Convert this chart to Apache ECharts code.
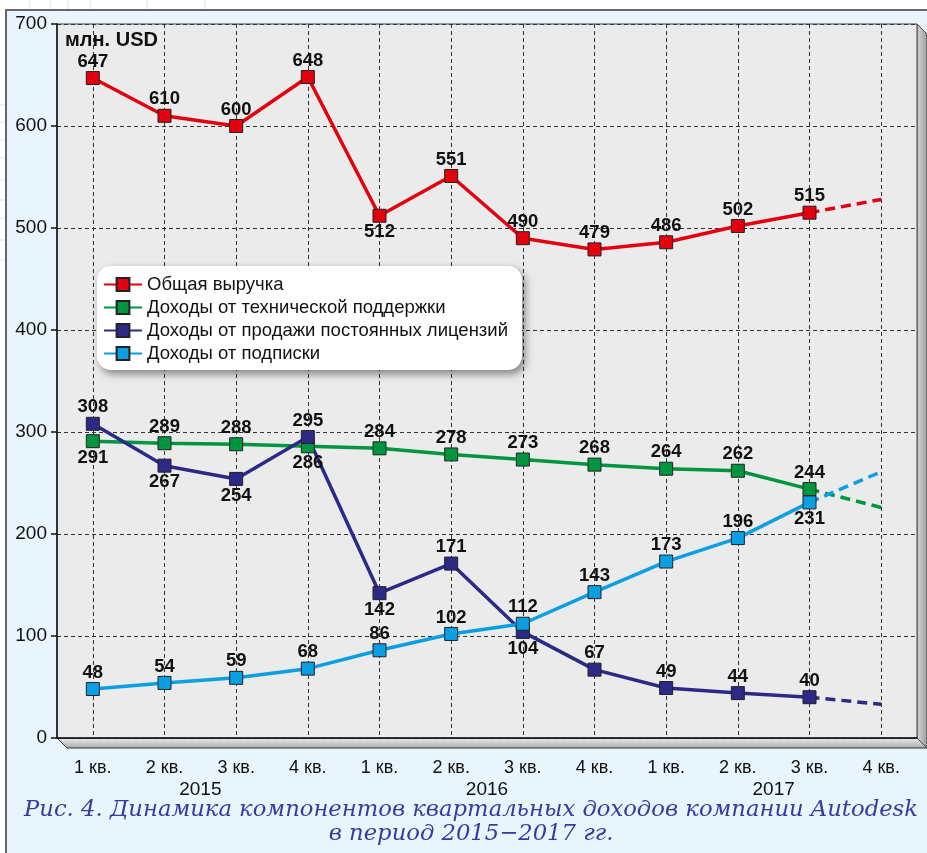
<!DOCTYPE html>
<html>
<head>
<meta charset="utf-8">
<script src="https://cdn.jsdelivr.net/npm/echarts@6/dist/echarts.min.js"></script>
<style>
html,body{margin:0;padding:0;background:#fff;}
#chart{width:927px;height:853px;}
</style>
</head>
<body>
<div id="chart"></div>
<script>
// кварталы и годы
var quarters = ['1 кв.', '2 кв.', '3 кв.', '4 кв.', '1 кв.', '2 кв.', '3 кв.', '4 кв.', '1 кв.', '2 кв.', '3 кв.', '4 кв.'];
var years = ['2015', '2016', '2017'];

// млн. USD, 1 кв. 2015 – 3 кв. 2017
var totalRevenue = [647, 610, 600, 648, 512, 551, 490, 479, 486, 502, 515];
var supportRevenue = [291, 289, 288, 286, 284, 278, 273, 268, 264, 262, 244];
var licenseRevenue = [308, 267, 254, 295, 142, 171, 104, 67, 49, 44, 40];
var subscriptionRevenue = [48, 54, 59, 68, 86, 102, 112, 143, 173, 196, 231];
// прогноз на 4 кв. 2017 (пунктир)
var forecastQ4 = [528, 226, 33, 261];

var names = ['Общая выручка', 'Доходы от технической поддержки', 'Доходы от продажи постоянных лицензий', 'Доходы от подписки'];
var COLORS = ['#e3000f', '#009640', '#2d2a87', '#0a9fe3'];

var chart = echarts.init(document.getElementById('chart'));

// номера точек, у которых подпись стоит под маркером
var below = [[4], [0, 3], [1, 2, 4, 6], [10]];

function solidSeries(i, values) {
    return {
        name: names[i],
        type: 'line',
        data: values.map(function (v, k) {
            return {value: v, label: {position: below[i].indexOf(k) >= 0 ? 'bottom' : 'top'}};
        }),
        symbol: 'rect',
        symbolSize: 13,
        color: COLORS[i],
        lineStyle: {width: 3.5, color: COLORS[i]},
        itemStyle: {color: COLORS[i], borderColor: '#222', borderWidth: 1},
        label: {show: true, distance: 0, color: '#111', fontSize: 18.5, fontWeight: 'bold', fontFamily: 'Liberation Sans, Arial'},
        emphasis: {disabled: true},
        z: 3
    };
}

function dashSeries(i, values) {
    var d = quarters.map(function () { return null; });
    d[values.length - 1] = values[values.length - 1];
    d[values.length] = forecastQ4[i];
    return {
        name: names[i] + ' прогноз',
        type: 'line',
        data: d,
        showSymbol: false,
        symbol: 'none',
        lineStyle: {width: 3.5, color: COLORS[i], type: [10, 6]},
        emphasis: {disabled: true},
        z: 2
    };
}

var allValues = [totalRevenue, supportRevenue, licenseRevenue, subscriptionRevenue];
var series = [];
allValues.forEach(function (v, i) { series.push(dashSeries(i, v)); });
allValues.forEach(function (v, i) { series.push(solidSeries(i, v)); });

// фон с сеткой вне рамки
var bgLines = [];
[30, 50, 68, 90, 147, 205].forEach(function (x) {
    bgLines.push({type: 'line', shape: {x1: x, y1: 0, x2: x, y2: 10}, style: {stroke: '#cfe5f6', lineWidth: 1}, z: -10});
});
[105, 122, 140, 158, 180, 200, 218, 240, 260].forEach(function (y) {
    bgLines.push({type: 'line', shape: {x1: 0, y1: y, x2: 6, y2: y}, style: {stroke: '#cfe5f6', lineWidth: 1}, z: -10});
});

chart.setOption({
    animation: false,
    backgroundColor: '#ffffff',
    textStyle: {fontFamily: 'Liberation Sans, Arial'},
    graphic: bgLines.concat([
        {   // рамка рисунка
            type: 'rect', shape: {x: 6, y: 10, width: 940, height: 860},
            style: {fill: '#e8f5fd', stroke: '#666', lineWidth: 2}, z: -9
        },
        {   // пол под осью
            type: 'polygon', shape: {points: [[57, 738], [917, 738], [927, 748], [67, 748]]},
            style: {fill: new echarts.graphic.LinearGradient(0, 0, 0, 1, [{offset: 0, color: '#eeeeee'}, {offset: 1, color: '#a8a8a8'}]), stroke: '#333', lineWidth: 1}, z: -1
        },
        {   // правая стенка
            type: 'polygon', shape: {points: [[917, 24], [927, 34], [927, 748], [917, 738]]},
            style: {fill: new echarts.graphic.LinearGradient(0, 0, 1, 0, [{offset: 0, color: '#d8d8d8'}, {offset: 1, color: '#9a9a9a'}]), stroke: '#444', lineWidth: 1}, z: -1
        },
        {
            type: 'text', x: 65, y: 30, z: 10,
            style: {text: 'млн. USD', fill: '#111', font: 'bold 20px "Liberation Sans", Arial'}
        },
        {
            type: 'text', x: 471, y: 798, z: 10,
            style: {
                text: 'Рис. 4. Динамика компонентов квартальных доходов компании Autodesk\nв период 2015−2017 гг.',
                fill: '#3a3a9c', font: 'italic 22.7px "DejaVu Serif", serif', textAlign: 'center', lineHeight: 24
            }
        }
    ]),
    legend: {
        data: names,
        orient: 'vertical',
        left: 97,
        top: 266,
        padding: [9, 14, 7, 6],
        itemGap: 4,
        itemWidth: 38,
        itemHeight: 16,
        backgroundColor: '#ffffff',
        borderRadius: 14,
        shadowColor: 'rgba(0,0,0,0.45)',
        shadowBlur: 8,
        shadowOffsetX: 3,
        shadowOffsetY: 4,
        textStyle: {fontSize: 18.5, color: '#111', fontFamily: 'Liberation Sans, Arial'}
    },
    grid: {
        left: 57, right: 10, top: 24, bottom: 115,
        show: true, backgroundColor: '#ebebeb', borderColor: '#444', borderWidth: 1
    },
    xAxis: [{
        type: 'category',
        data: quarters,
        boundaryGap: true,
        axisLine: {lineStyle: {color: '#111', width: 1.5}},
        axisTick: {alignWithLabel: true, inside: true, length: 8, lineStyle: {color: '#111', width: 2}},
        splitLine: {show: true, alignWithLabel: true, lineStyle: {color: '#333', type: [4, 3]}},
        axisLabel: {margin: 21, fontSize: 18, color: '#111', fontFamily: 'Liberation Sans Narrow, Arial Narrow, sans-serif'}
    }, {
        type: 'category',
        data: years,
        position: 'bottom',
        axisLine: {show: false},
        axisTick: {show: false},
        axisLabel: {margin: 42, fontSize: 19, color: '#111'}
    }],
    yAxis: {
        type: 'value',
        min: 0, max: 700, interval: 100,
        axisLine: {show: true, lineStyle: {color: '#111', width: 1.5}},
        axisTick: {show: true, length: 6, lineStyle: {color: '#111', width: 1.5}},
        splitLine: {lineStyle: {color: '#333', type: [4, 3]}},
        axisLabel: {margin: 10, fontSize: 19, color: '#111'}
    },
    series: series
});
</script>
</body>
</html>
